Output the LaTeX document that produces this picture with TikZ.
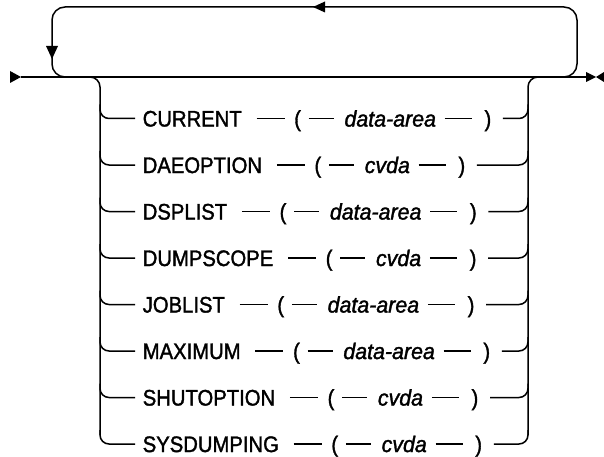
\documentclass[tikz,border=0pt]{standalone}
\usepackage{fontspec}
\setmainfont{Liberation Sans}[FakeBold=1.5,FakeStretch=0.9]
\newfontfamily\argfont{Liberation Sans}[FakeBold=1.5,FakeStretch=0.95]
\usetikzlibrary{positioning}
\begin{document}
\begin{tikzpicture}[x=1pt,y=-1pt,line width=1.5pt,
  tok/.style={inner sep=0pt,text height=16.1pt,text depth=0pt,font=\fontsize{22.5}{24}\selectfont},
  argtok/.style={tok,font=\fontsize{22.5}{24}\argfont\itshape},
  dashline/.style={line width=1.3pt}]
\useasboundingbox[fill=white] (0,0) rectangle (604,457);
% main line
\coordinate (start) at (21,77);
\coordinate (finish) at (590,77);
\draw (start) -- (finish);
\fill (10,71) -- (21,77) -- (10,83) -- cycle;
\fill (586,72) -- (596,77) -- (586,82) -- cycle;
\fill (604,72) -- (596,77) -- (604,82) -- cycle;
% repeat loop
\coordinate (loopin) at (80,77);
\coordinate (looptl) at (52,7);
\coordinate (looptr) at (577,77);
\coordinate (loopout) at (550,77);
\draw[rounded corners=13pt] (loopin) -| (looptl) -| (looptr) -- (loopout);
\fill (46,46) -- (58,46) -- (52,59) -- cycle;
\fill (313,7) -- (325,1.5) -- (325,12.5) -- cycle;
% branch verticals
\coordinate (brin) at (80,77);
\coordinate (brl) at (100,435);
\coordinate (brr) at (528,435);
\coordinate (brout) at (548,77);
\draw[rounded corners=10pt] (brin) -| (brl);
\draw[rounded corners=10pt] (brr) |- (brout);
% rows
\foreach \kw/\arg [count=\i from 0] in {CURRENT/data-area,DAEOPTION/cvda,DSPLIST/data-area,DUMPSCOPE/cvda,JOBLIST/data-area,MAXIMUM/data-area,SHUTOPTION/cvda,SYSDUMPING/cvda}{
  \pgfmathsetmacro\yy{118.5+46.5*\i}
  \node[tok,anchor=west] (kw\i) at (142,\yy) {\kw};
  \node[tok,right=51pt of kw\i] (lp\i) {(};
  \node[argtok,right=42pt of lp\i] (ar\i) {\arg};
  \node[tok,right=47pt of ar\i] (rp\i) {)};
  \draw[dashline,shorten <=14pt,shorten >=9pt] (kw\i) -- (lp\i);
  \draw[dashline,shorten <=7pt,shorten >=10pt] (lp\i) -- (ar\i);
  \draw[dashline,shorten <=8pt,shorten >=12pt] (ar\i) -- (rp\i);
  \draw[rounded corners=9pt,shorten >=7pt] (100,\yy-14) |- (kw\i.west);
  \draw[rounded corners=9pt,shorten <=11pt] (rp\i.east) -| (528,\yy-14);
}
\end{tikzpicture}
\end{document}
